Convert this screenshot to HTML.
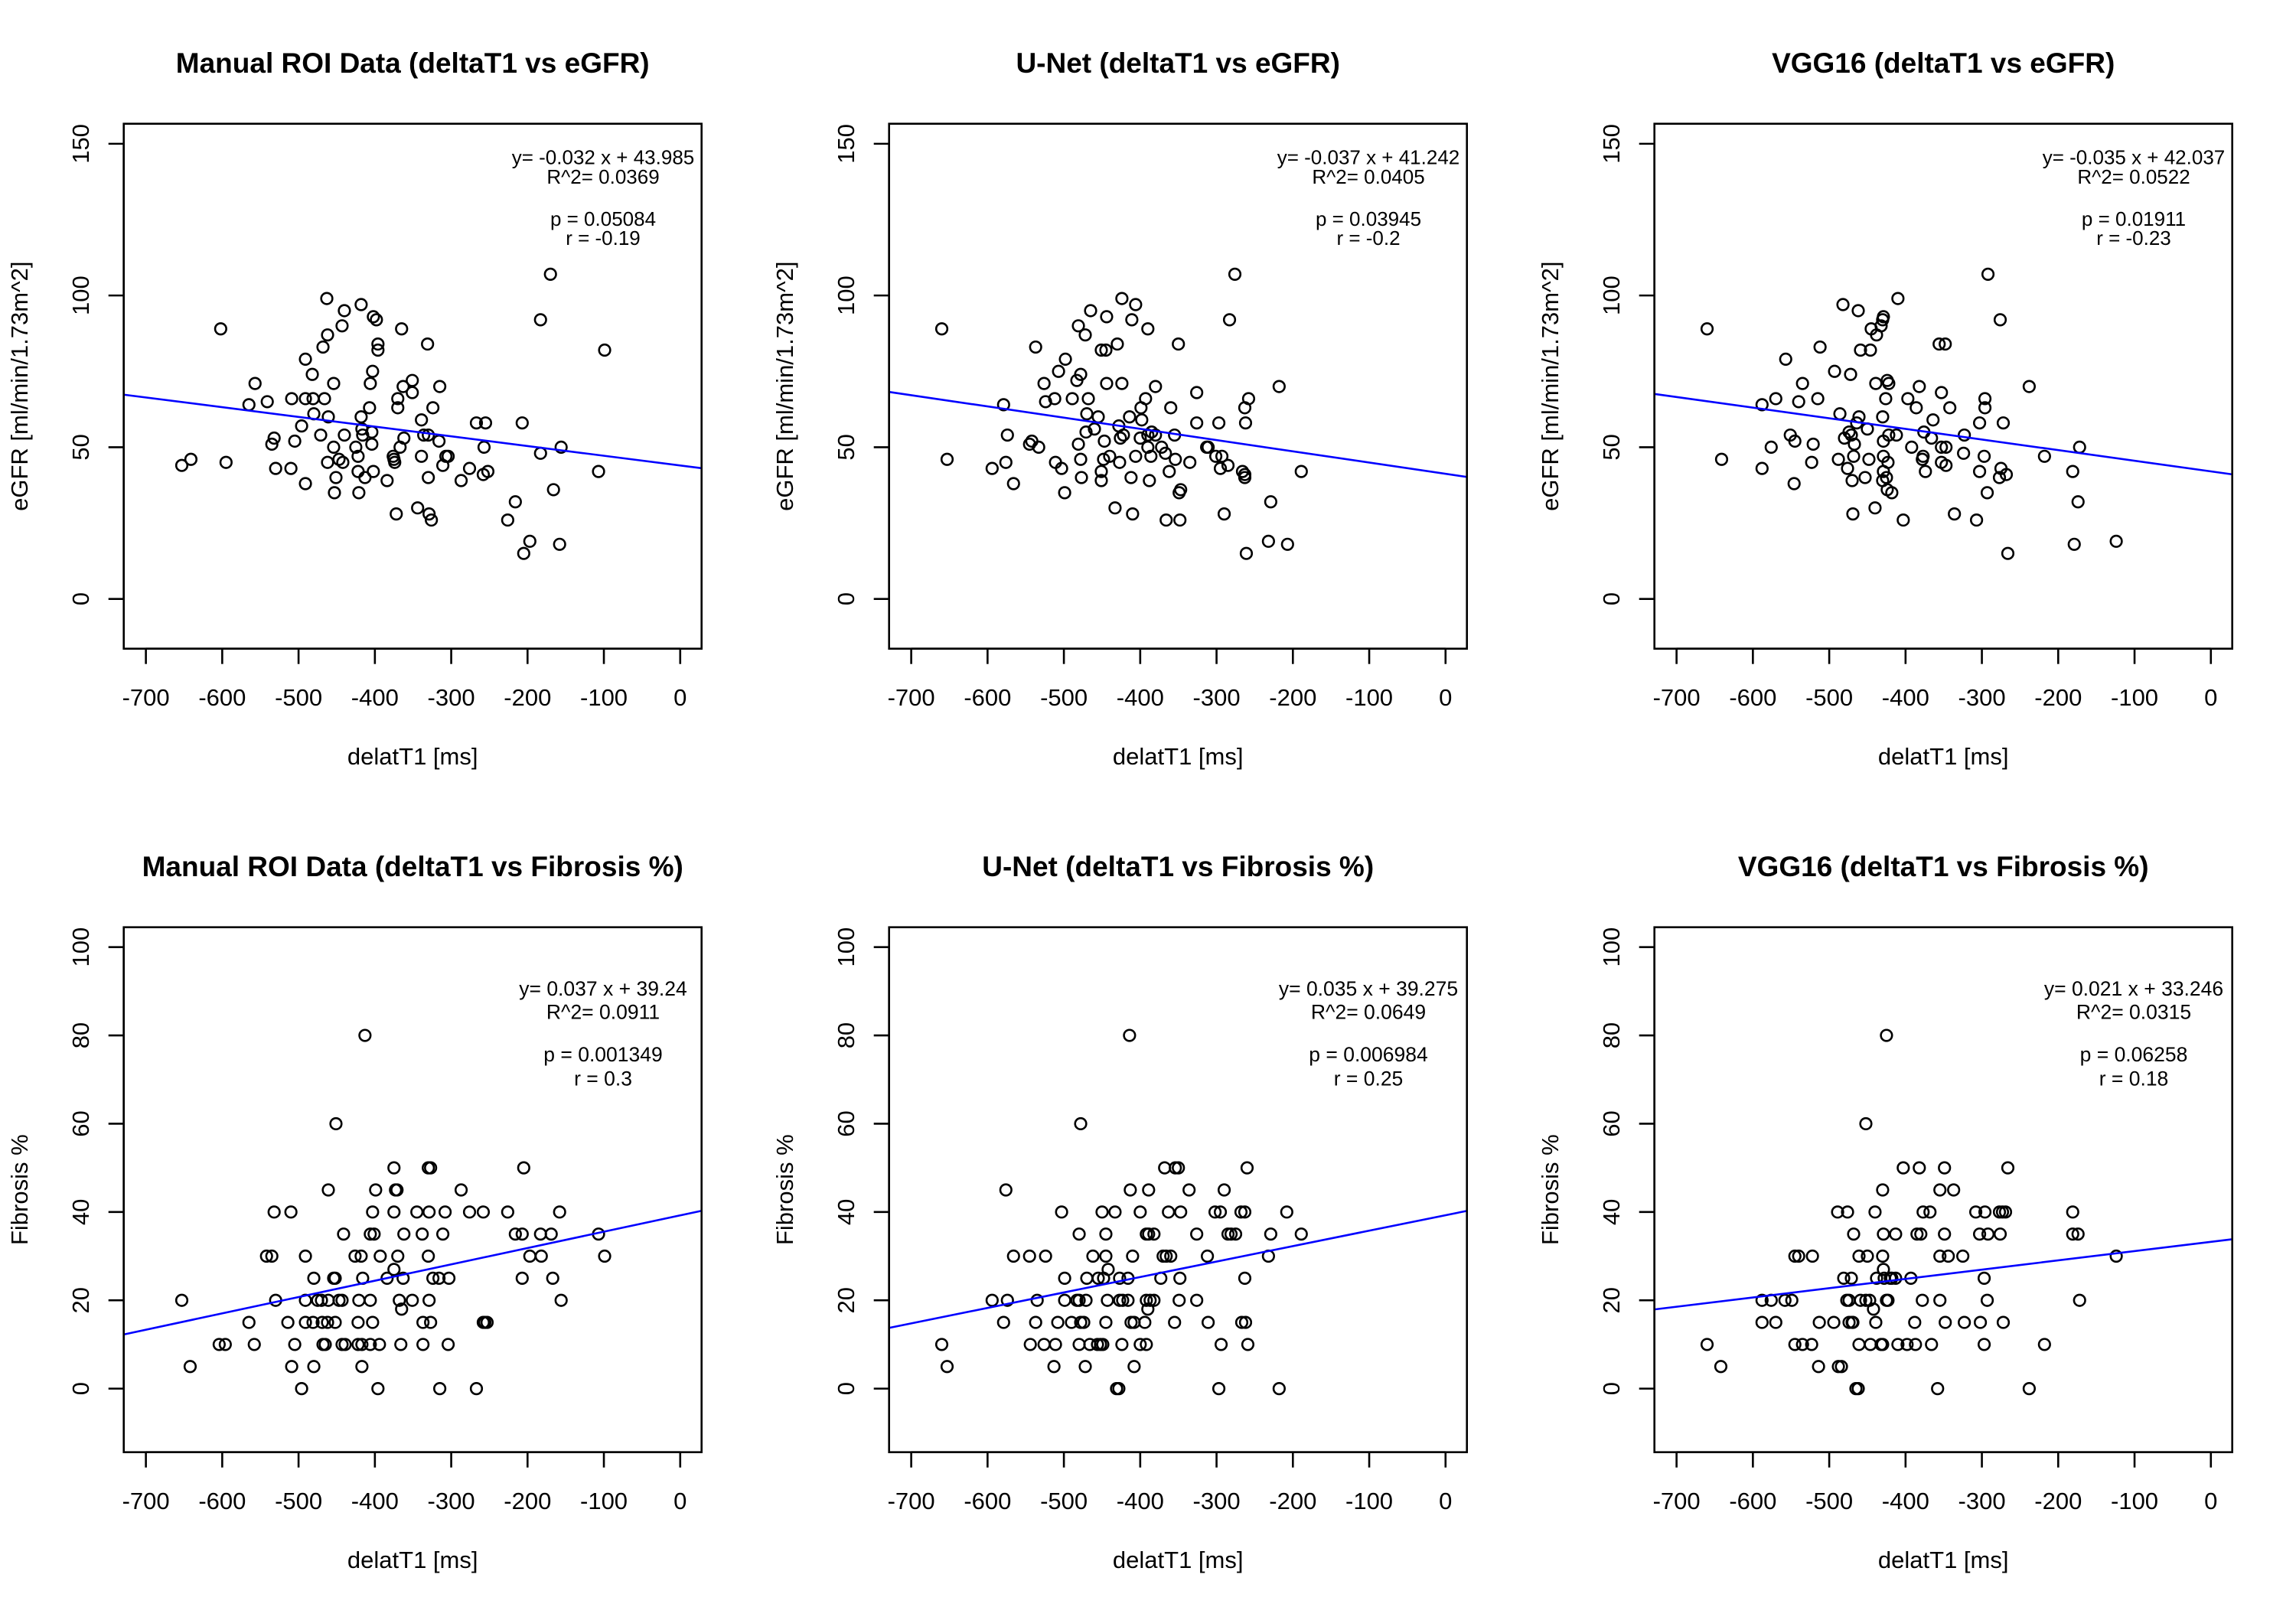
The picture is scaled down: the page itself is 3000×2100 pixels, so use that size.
<!DOCTYPE html>
<html><head><meta charset="utf-8">
<style>
html,body{margin:0;padding:0;background:#fff;}
svg{display:block;font-family:"Liberation Sans",Arial,sans-serif;}
</style></head>
<body>
<svg id="fig" width="3000" height="2100" viewBox="0 0 3000 2100" xmlns="http://www.w3.org/2000/svg">
<rect x="0" y="0" width="3000" height="2100" fill="#fff"/>
</svg>
<script>
const titles = ["Manual ROI Data (deltaT1 vs eGFR)","U-Net (deltaT1 vs eGFR)","VGG16 (deltaT1 vs eGFR)","Manual ROI Data (deltaT1 vs Fibrosis %)","U-Net (deltaT1 vs Fibrosis %)","VGG16 (deltaT1 vs Fibrosis %)"];
const yTitles = ["eGFR [ml/min/1.73m^2]","Fibrosis %"];
const xTicks = [-700,-600,-500,-400,-300,-200,-100,0];
const yTicksTop = [0,50,100,150];
const yTicksBottom = [0,20,40,60,80,100];
const slopes = [-0.032,-0.037,-0.035,0.037,0.035,0.021];
const intercepts = [43.985,41.242,42.037,39.24,39.275,33.246];
const annotations = [
 ["y= -0.032 x + 43.985","R^2= 0.0369","p = 0.05084","r = -0.19"],
 ["y= -0.037 x + 41.242","R^2= 0.0405","p = 0.03945","r = -0.2"],
 ["y= -0.035 x + 42.037","R^2= 0.0522","p = 0.01911","r = -0.23"],
 ["y= 0.037 x + 39.24","R^2= 0.0911","p = 0.001349","r = 0.3"],
 ["y= 0.035 x + 39.275","R^2= 0.0649","p = 0.006984","r = 0.25"],
 ["y= 0.021 x + 33.246","R^2= 0.0315","p = 0.06258","r = 0.18"]];

const manualEgfr = [[-653,44],[-641,46],[-602,89],[-595,45],[-565,64],[-557,71],[-541,65],[-535,51],[-532,53],[-530,43],[-510,43],[-509,66],[-505,52],[-496,57],[-491,79],[-491,66],[-491,38],[-482,74],[-481,66],[-480,61],[-471,54],[-468,83],[-466,66],[-463,99],[-462,87],[-461,60],[-462,45],[-454,71],[-454,50],[-453,35],[-451,40],[-447,46],[-443,90],[-442,45],[-440,95],[-440,54],[-425,50],[-422,47],[-422,42],[-421,35],[-418,97],[-418,60],[-416,54],[-417,56],[-413,40],[-407,63],[-406,71],[-404,51],[-403,75],[-404,55],[-402,93],[-398,92],[-402,42],[-396,84],[-396,82],[-384,39],[-376,47],[-375,46],[-374,45],[-372,28],[-370,63],[-370,66],[-367,50],[-365,89],[-363,70],[-362,53],[-351,72],[-351,68],[-344,30],[-339,47],[-339,59],[-336,54],[-331,84],[-330,54],[-330,40],[-329,28],[-326,26],[-324,63],[-316,52],[-315,70],[-311,44],[-307,47],[-304,47],[-287,39],[-276,43],[-267,58],[-258,41],[-257,50],[-255,58],[-252,42],[-226,26],[-216,32],[-207,58],[-205,15],[-197,19],[-183,48],[-183,92],[-170,107],[-166,36],[-158,18],[-156,50],[-107,42],[-99,82]];
const unetEgfr = [[-660,89],[-653,46],[-594,43],[-579,64],[-576,45],[-574,54],[-566,38],[-545,51],[-542,52],[-537,83],[-533,50],[-526,71],[-524,65],[-512,66],[-511,45],[-507,75],[-503,43],[-499,35],[-498,79],[-489,66],[-483,72],[-481,90],[-481,51],[-478,74],[-478,46],[-477,40],[-472,87],[-471,55],[-470,61],[-468,66],[-465,95],[-460,56],[-455,60],[-451,82],[-451,39],[-451,42],[-448,46],[-447,52],[-445,82],[-444,93],[-444,71],[-440,47],[-433,30],[-430,84],[-428,57],[-427,45],[-426,53],[-424,99],[-424,71],[-422,54],[-414,60],[-412,40],[-411,92],[-410,28],[-406,97],[-406,47],[-400,53],[-399,63],[-398,59],[-393,66],[-390,54],[-390,89],[-388,39],[-386,47],[-390,50],[-385,55],[-380,70],[-380,54],[-372,50],[-367,48],[-366,26],[-362,42],[-360,63],[-355,54],[-354,46],[-350,84],[-349,35],[-347,36],[-348,26],[-335,45],[-326,68],[-326,58],[-313,50],[-311,50],[-301,47],[-297,58],[-295,43],[-293,47],[-290,28],[-285,44],[-283,92],[-276,107],[-266,42],[-263,41],[-263,40],[-263,63],[-262,58],[-261,15],[-258,66],[-232,19],[-229,32],[-218,70],[-207,18],[-189,42]];
const vggEgfr = [[-660,89],[-641,46],[-588,43],[-588,64],[-576,50],[-570,66],[-557,79],[-551,54],[-546,38],[-545,52],[-540,65],[-535,71],[-523,45],[-521,51],[-515,66],[-512,83],[-493,75],[-488,46],[-486,61],[-482,97],[-480,53],[-476,43],[-474,55],[-472,74],[-471,54],[-470,39],[-469,28],[-468,47],[-467,51],[-464,58],[-462,95],[-461,60],[-459,82],[-453,40],[-450,56],[-448,46],[-446,82],[-445,89],[-440,30],[-439,71],[-438,87],[-432,90],[-430,92],[-429,93],[-430,60],[-429,52],[-429,47],[-430,39],[-429,42],[-426,66],[-425,40],[-424,72],[-423,45],[-422,54],[-422,71],[-424,36],[-418,35],[-412,54],[-410,99],[-403,26],[-397,66],[-392,50],[-386,63],[-382,70],[-378,46],[-377,47],[-376,55],[-374,42],[-366,53],[-364,59],[-356,84],[-353,50],[-353,68],[-353,45],[-348,84],[-347,44],[-347,50],[-342,63],[-336,28],[-324,48],[-323,54],[-307,26],[-303,58],[-303,42],[-297,47],[-296,66],[-296,63],[-293,35],[-292,107],[-277,40],[-276,92],[-275,43],[-272,58],[-268,41],[-266,15],[-238,70],[-218,47],[-181,42],[-179,18],[-174,32],[-172,50],[-124,19]];
const manualFib = [[-653,20],[-642,5],[-604,10],[-596,10],[-565,15],[-558,10],[-542,30],[-535,30],[-532,40],[-530,20],[-514,15],[-510,40],[-509,5],[-505,10],[-496,0],[-491,30],[-491,20],[-491,15],[-480,25],[-481,15],[-480,5],[-475,20],[-470,20],[-469,15],[-468,10],[-465,10],[-461,45],[-462,15],[-461,20],[-454,25],[-452,25],[-452,15],[-451,60],[-447,20],[-443,20],[-443,10],[-441,35],[-439,10],[-426,30],[-422,15],[-421,20],[-422,10],[-418,30],[-417,5],[-417,10],[-416,25],[-413,80],[-406,10],[-406,20],[-406,35],[-403,40],[-403,15],[-401,35],[-399,45],[-396,0],[-394,10],[-393,30],[-384,25],[-375,50],[-375,40],[-375,27],[-373,45],[-371,45],[-370,30],[-366,10],[-368,20],[-365,18],[-363,25],[-362,35],[-351,20],[-345,40],[-338,35],[-337,15],[-337,10],[-330,50],[-330,30],[-329,20],[-327,50],[-329,40],[-327,15],[-324,25],[-316,25],[-315,0],[-311,35],[-308,40],[-304,10],[-303,25],[-287,45],[-276,40],[-267,0],[-258,40],[-258,15],[-256,15],[-253,15],[-226,40],[-216,35],[-207,35],[-207,25],[-205,50],[-197,30],[-183,35],[-182,30],[-169,35],[-167,25],[-158,40],[-156,20],[-107,35],[-99,30]];
const unetFib = [[-660,10],[-653,5],[-594,20],[-579,15],[-576,45],[-574,20],[-566,30],[-545,30],[-544,10],[-537,15],[-535,20],[-526,10],[-524,30],[-513,5],[-511,10],[-508,15],[-503,40],[-499,25],[-499,20],[-490,15],[-483,20],[-480,35],[-480,10],[-480,20],[-478,15],[-478,60],[-474,15],[-472,5],[-471,20],[-470,25],[-466,10],[-462,30],[-456,10],[-455,25],[-452,10],[-450,40],[-449,10],[-448,25],[-445,35],[-445,30],[-445,15],[-443,20],[-442,27],[-433,40],[-431,0],[-428,0],[-427,25],[-427,20],[-424,10],[-423,20],[-416,25],[-416,20],[-414,80],[-413,45],[-412,15],[-410,30],[-408,15],[-408,5],[-400,40],[-400,10],[-394,15],[-392,10],[-392,35],[-392,20],[-390,18],[-389,45],[-389,35],[-387,20],[-382,35],[-382,20],[-373,25],[-370,30],[-368,50],[-366,30],[-363,40],[-360,30],[-355,15],[-354,50],[-350,50],[-349,20],[-348,25],[-347,40],[-336,45],[-326,35],[-326,20],[-312,30],[-311,15],[-302,40],[-297,0],[-295,40],[-294,10],[-290,45],[-285,35],[-281,35],[-275,35],[-268,40],[-267,15],[-263,40],[-263,25],[-262,15],[-260,50],[-259,10],[-232,30],[-229,35],[-218,0],[-208,40],[-189,35]];
const vggFib = [[-660,10],[-642,5],[-588,20],[-588,15],[-576,20],[-570,15],[-558,20],[-549,20],[-545,30],[-545,10],[-540,30],[-535,10],[-523,10],[-522,30],[-514,5],[-513,15],[-494,15],[-489,40],[-488,5],[-484,5],[-481,25],[-477,20],[-476,40],[-474,15],[-474,20],[-471,25],[-470,15],[-468,35],[-469,15],[-465,0],[-462,0],[-461,30],[-461,10],[-459,20],[-452,60],[-450,30],[-452,20],[-447,20],[-446,10],[-442,18],[-440,40],[-439,15],[-438,25],[-432,10],[-430,30],[-430,45],[-430,10],[-429,35],[-429,27],[-428,25],[-425,20],[-425,80],[-423,20],[-420,25],[-418,25],[-413,35],[-413,25],[-410,10],[-403,50],[-398,10],[-393,25],[-388,15],[-387,10],[-385,35],[-382,50],[-380,35],[-378,20],[-377,40],[-368,40],[-366,10],[-358,0],[-355,20],[-355,45],[-355,30],[-349,50],[-349,35],[-348,15],[-344,30],[-337,45],[-325,30],[-323,15],[-308,40],[-303,35],[-302,15],[-297,25],[-297,10],[-296,40],[-293,20],[-292,35],[-277,40],[-276,35],[-273,40],[-272,15],[-269,40],[-266,50],[-238,0],[-218,10],[-181,40],[-181,35],[-174,35],[-172,20],[-124,30]];
const series = [manualEgfr, unetEgfr, vggEgfr, manualFib, unetFib, vggFib];

const NS = "http://www.w3.org/2000/svg";
const fig = document.getElementById('fig');
const BOX_L = 161.7, BOX_R = 916.7, BOX_T = 161.7, BOX_B = 847.7;
const X_DOM = [-729, 28];
const CX = (BOX_L + BOX_R) / 2;
function mk(tag, attrs, parent){const e=document.createElementNS(NS,tag);for(const k in attrs)e.setAttribute(k,attrs[k]);parent.appendChild(e);return e;}

for(let i=0;i<6;i++){
  const col=i%3,row=Math.floor(i/3);
  const g=mk('g',{transform:`translate(${col*1000},${row*1050})`},fig);
  
  
  const yDom = row===0 ? [-16.4,156.6] : [-14.4,104.5];
  const yTicks = row===0 ? yTicksTop : yTicksBottom;
  const xs = v => BOX_L + (v - X_DOM[0])/(X_DOM[1]-X_DOM[0])*(BOX_R-BOX_L);
  const ys = v => BOX_B - (v - yDom[0])/(yDom[1]-yDom[0])*(BOX_B-BOX_T);

  const t=mk('text',{x:CX,y:95,'text-anchor':'middle','font-size':37,'font-weight':'bold',fill:'#000'},g);
  t.textContent=titles[i];
  
  

  const xa=mk('g',{},g);
  
  
  mk('line',{x1:xs(xTicks[0]),x2:xs(xTicks[xTicks.length-1]),y1:BOX_B,y2:BOX_B,stroke:'#000','stroke-width':2.6},xa);
  xTicks.forEach(v=>{
    mk('line',{x1:xs(v),x2:xs(v),y1:BOX_B,y2:BOX_B+20,stroke:'#000','stroke-width':2.6},xa);
    const tl=mk('text',{x:xs(v),y:922,'text-anchor':'middle','font-size':31,fill:'#000'},xa);
    tl.textContent=String(v);
    
    
  });
  const xt=mk('text',{x:CX,y:999,'text-anchor':'middle','font-size':31,fill:'#000'},g);
  xt.textContent='delatT1 [ms]';
  
  

  const ya=mk('g',{},g);
  
  
  mk('line',{x1:BOX_L,x2:BOX_L,y1:ys(yTicks[0]),y2:ys(yTicks[yTicks.length-1]),stroke:'#000','stroke-width':2.6},ya);
  yTicks.forEach(v=>{
    mk('line',{x1:BOX_L,x2:BOX_L-20,y1:ys(v),y2:ys(v),stroke:'#000','stroke-width':2.6},ya);
    const tl=mk('text',{x:116,y:ys(v),'text-anchor':'middle','font-size':31,fill:'#000',transform:`rotate(-90 116 ${ys(v)})`},ya);
    tl.textContent=String(v);
    
    
  });
  const yc=(BOX_T+BOX_B)/2;
  const yt=mk('text',{x:36,y:yc,'text-anchor':'middle','font-size':31,fill:'#000',transform:`rotate(-90 36 ${yc})`},g);
  yt.textContent=yTitles[row];
  
  

  const pg=mk('g',{},g);
  
  
  series[i].forEach(p=>{
    const c=mk('circle',{cx:xs(p[0]),cy:ys(p[1]),r:7.3,fill:'none',stroke:'#000','stroke-width':2.6},pg);
    
    
  });

  const ln=mk('line',{x1:xs(X_DOM[0]),y1:ys(intercepts[i]+slopes[i]*X_DOM[0]),x2:xs(X_DOM[1]),y2:ys(intercepts[i]+slopes[i]*X_DOM[1]),stroke:'#0000ff','stroke-width':2.6},g);
  
  

  const bx=mk('rect',{x:BOX_L,y:BOX_T,width:BOX_R-BOX_L,height:BOX_B-BOX_T,fill:'none',stroke:'#000','stroke-width':2.6},g);
  
  

  const ag=mk('g',{},g);
  
  
  const ly = row===0 ? [214.5,240,295,320] : [251,281.5,337,368.5];
  const fs = row===0 ? 26 : 26.5;
  annotations[i].forEach((s,k)=>{
    const at=mk('text',{x:788,y:ly[k],'text-anchor':'middle','font-size':fs,fill:'#000'},ag);
    at.textContent=s;
    
    
  });
}
</script>
</body></html>
